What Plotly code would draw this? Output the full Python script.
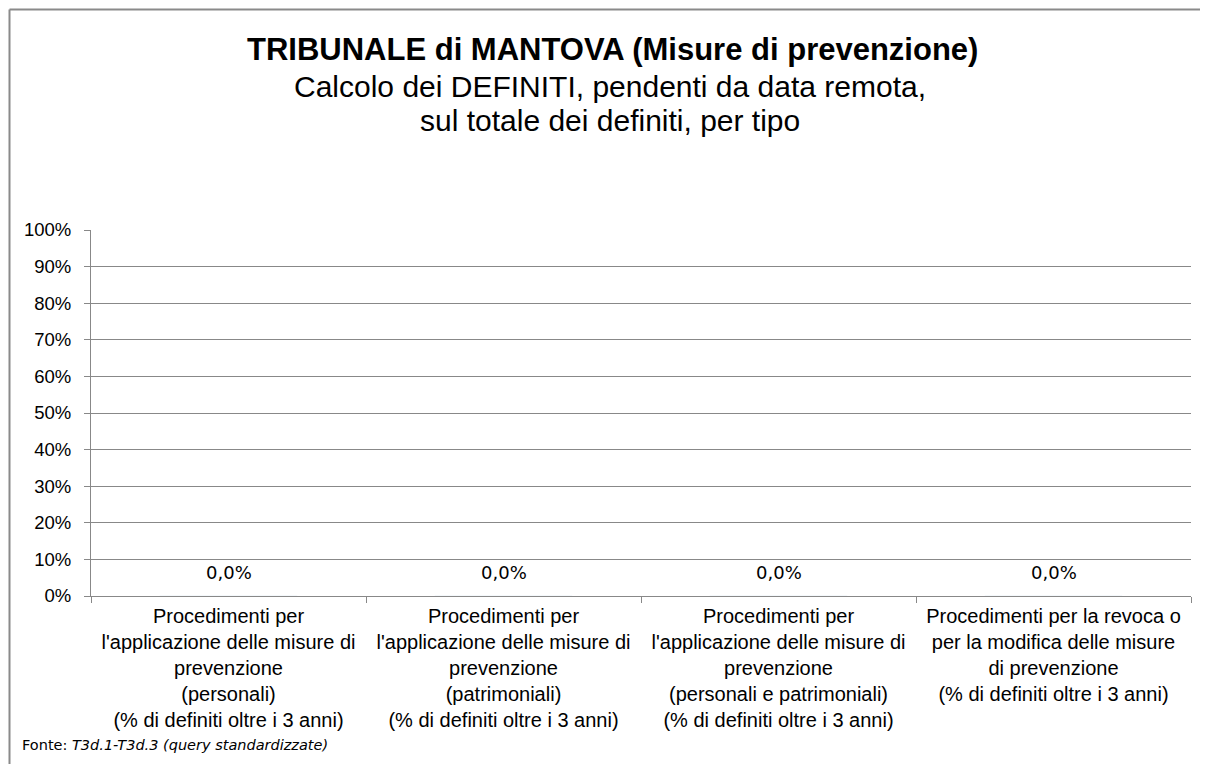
import plotly.graph_objects as go

categories = [
    "Procedimenti per<br>l'applicazione delle misure di<br>prevenzione<br>(personali)<br>(% di definiti oltre i 3 anni)",
    "Procedimenti per<br>l'applicazione delle misure di<br>prevenzione<br>(patrimoniali)<br>(% di definiti oltre i 3 anni)",
    "Procedimenti per<br>l'applicazione delle misure di<br>prevenzione<br>(personali e patrimoniali)<br>(% di definiti oltre i 3 anni)",
    "Procedimenti per la revoca o<br>per la modifica delle misure<br>di prevenzione<br>(% di definiti oltre i 3 anni)",
]
values = [0.0, 0.0, 0.0, 0.0]
value_labels = ["0,0%", "0,0%", "0,0%", "0,0%"]
title_main = "TRIBUNALE di MANTOVA (Misure di prevenzione)"
title_sub1 = "Calcolo dei DEFINITI, pendenti da data remota,"
title_sub2 = "sul totale dei definiti, per tipo"

W, H = 1208, 764
L, R, T, B = 83, 25, 222, 176
pw, ph = W - L - R, H - T - B

def px_x(x):
    return (x - L) / pw

def px_y(y):
    return (H - B - y) / ph

fig = go.Figure()
fig.add_trace(go.Bar(x=categories, y=values, marker_color="#4F81BD", showlegend=False,
                     hoverinfo="skip"))

for c, v, t in zip(categories, values, value_labels):
    fig.add_annotation(x=c, y=v, text=t, showarrow=False, yshift=24,
                       font=dict(family="DejaVu Sans, Verdana", size=18, color="#000"))

arial = "Liberation Sans, Arial"
fig.add_annotation(xref="paper", yref="paper", x=px_x(604), y=px_y(42), text="<b>" + title_main + "</b>",
                   showarrow=False, font=dict(family=arial, size=31, color="#000"),
                   xanchor="center", yanchor="middle")
fig.add_annotation(xref="paper", yref="paper", x=px_x(602), y=px_y(78), text=title_sub1,
                   showarrow=False, font=dict(family=arial, size=30, color="#000"),
                   xanchor="center", yanchor="middle")
fig.add_annotation(xref="paper", yref="paper", x=px_x(602), y=px_y(112), text=title_sub2,
                   showarrow=False, font=dict(family=arial, size=30, color="#000"),
                   xanchor="center", yanchor="middle")
fig.add_annotation(xref="paper", yref="paper", x=px_x(12), y=px_y(737),
                   text="Fonte: <i>T3d.1-T3d.3 (query standardizzate)</i>",
                   showarrow=False, font=dict(family="DejaVu Sans, Verdana", size=14.5, color="#000"),
                   xanchor="left", yanchor="middle")

# outer frame (top and left edges)
fig.add_shape(type="line", xref="paper", yref="paper", x0=px_x(1.5), x1=px_x(1230),
              y0=px_y(1.5), y1=px_y(1.5), line=dict(color="#8a8a8a", width=2))
fig.add_shape(type="line", xref="paper", yref="paper", x0=px_x(1.5), x1=px_x(1.5),
              y0=px_y(1.5), y1=px_y(800), line=dict(color="#8a8a8a", width=2))

fig.update_layout(
    width=W, height=H,
    margin=dict(l=L, r=R, t=T, b=B, autoexpand=False),
    paper_bgcolor="white", plot_bgcolor="white",
    font=dict(family=arial, size=20, color="#000"),
    bargap=0.5,
    xaxis=dict(
        type="category", tickson="boundaries", ticks="outside", ticklen=6,
        tickcolor="#888", showline=True, linecolor="#888", linewidth=1,
        showgrid=False, tickfont=dict(family=arial, size=20, color="#000"),
        tickangle=0, ticklabelstandoff=2,
    ),
    yaxis=dict(
        range=[0, 1], tickvals=[i / 10 for i in range(11)], tickformat=".0%",
        ticks="outside", ticklen=6, tickcolor="#888", showline=True, linecolor="#888",
        linewidth=1, showgrid=True, gridcolor="#888", gridwidth=1, zeroline=False,
        tickfont=dict(family=arial, size=18.5, color="#000"), ticklabelstandoff=9,
    ),
)

fig.write_html("out.html")
